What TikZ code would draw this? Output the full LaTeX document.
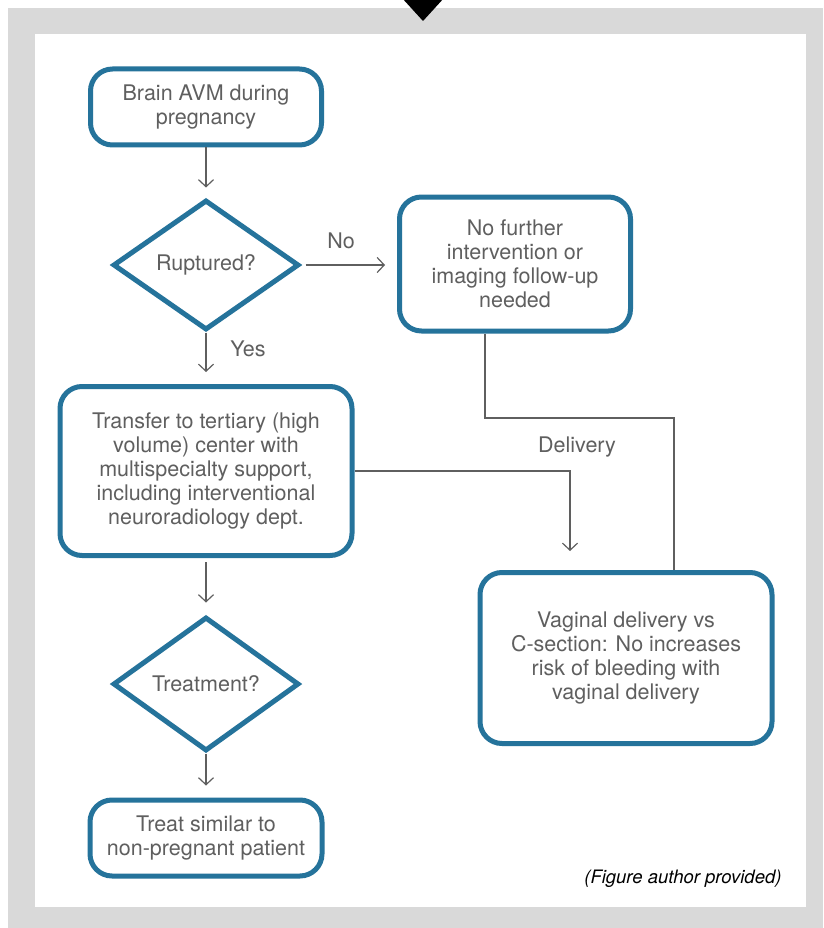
\documentclass[tikz,border=0pt]{standalone}
\usepackage{fontspec}
\setmainfont{TeX Gyre Heros}
\usetikzlibrary{shapes.geometric,arrows.meta}
\definecolor{avmblue}{RGB}{37,115,155}
\definecolor{txtgray}{RGB}{95,95,95}
\definecolor{framegray}{RGB}{217,217,217}
\tikzset{
	box/.style={draw=avmblue, line width=5pt, rounded corners=22pt, fill=white, align=center, text=txtgray, inner sep=0pt},
	qbox/.style={draw=avmblue, line width=5pt, diamond, fill=white, align=center, text=txtgray, inner sep=0pt},
	arr/.style={draw=txtgray, line width=1.2pt, -{Straight Barb[length=7pt,width=15pt]}},
	conn/.style={draw=txtgray, line width=1.2pt},
	lbl/.style={text=txtgray}
}

\begin{document}
\begin{tikzpicture}[x=1pt,y=-1pt,font=\fontsize{21.5}{24}\selectfont]
	\useasboundingbox (0,0) rectangle (823,928);
	\fill[framegray] (8,8) rectangle (823,928);
	\fill[white] (35,34) rectangle (806,907);
	\fill[black] (402,-2) -- (444,-2) -- (423,21) -- cycle;
	%
	\node[box, minimum width=231pt, minimum height=76pt] (avm) at (206,107) {Brain AVM during\\pregnancy};
	\node[qbox, minimum width=186pt, minimum height=130pt] (rupt) at (206,265) {Ruptured?};
	\node[box, minimum width=231pt, minimum height=134pt] (nofu) at (515,264) {No further\\intervention or\\imaging follow-up\\needed};
	\node[box, minimum width=292pt, minimum height=169pt] (transf) at (206,471) {Transfer to tertiary (high\\volume) center with\\multispecialty support,\\including interventional\\neuroradiology dept.};
	\node[box, minimum width=292pt, minimum height=171pt] (vag) at (626,658) {Vaginal delivery vs\\C-section: No increases\\risk of bleeding with\\vaginal delivery};
	\node[qbox, minimum width=186pt, minimum height=134pt] (treatq) at (206,684) {Treatment?};
	\node[box, minimum width=232pt, minimum height=76pt] (treat) at (206,838) {Treat similar to\\non-pregnant patient};
	%
	\coordinate (vin) at (570,551);
	\coordinate (d1) at (485,418);
	\coordinate (d2) at (674,418);
	\draw[arr, shorten >=10pt] (avm) -- (rupt);
	\draw[arr, shorten <=4pt, shorten >=12pt] (rupt.east) -- (rupt.east -| nofu.west);
	\draw[arr, shorten >=12pt] (rupt.south) -- (transf.north);
	\draw[arr] (transf.east) -| (vin);
	\draw[conn] (nofu.south -| d1) -- (d1) -- (d2) -- (d2 |- vag.north);
	\draw[arr, shorten <=4pt, shorten >=12pt] (transf.south) -- (treatq.north);
	\draw[arr, shorten >=12pt] (treatq.south) -- (treat.north);
	%
	\node[lbl] (lno) at (341,241) {No};
	\node[lbl] (lyes) at (248,349) {Yes};
	\node[lbl] (ldel) at (577,447) {Delivery};
	\node[anchor=east, font=\fontsize{18.5}{22}\selectfont\itshape] (cap) at (785,879) {(Figure author provided)};
\end{tikzpicture}
\end{document}
